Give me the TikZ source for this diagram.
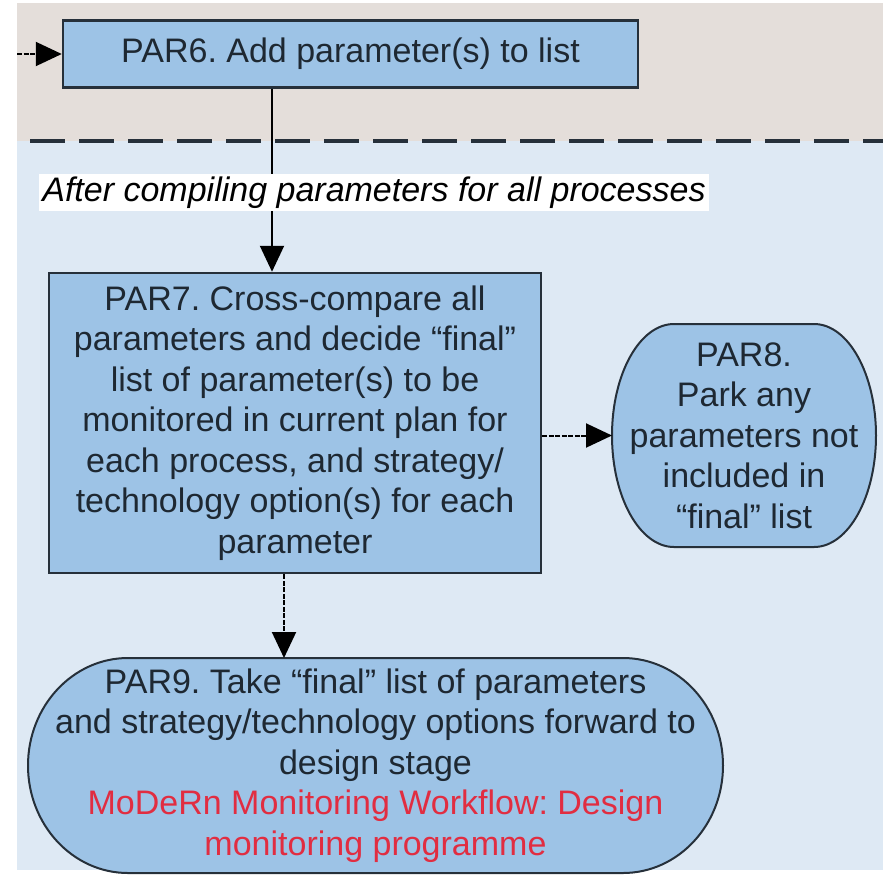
\documentclass[tikz,border=0pt]{standalone}
\usepackage{fontspec}
\setmainfont{Liberation Sans}
\frenchspacing
\usepackage{tikz}
\usetikzlibrary{positioning, arrows.meta, backgrounds}
\definecolor{boxblue}{RGB}{157,195,230}
\definecolor{edgedark}{RGB}{38,48,58}
\definecolor{txtdark}{RGB}{30,40,50}
\definecolor{upperbg}{RGB}{228,222,218}
\definecolor{lowerbg}{RGB}{222,233,244}
\definecolor{wfred}{RGB}{225,45,65}
\tikzset{
  parbox/.style={
    rectangle, draw=edgedark, line width=2.5pt, fill=boxblue,
    align=center, text=txtdark, inner sep=0pt,
    font=\fontsize{34}{40.5}\selectfont
  },
  parend/.style={parbox, draw=none, fill=none, outer sep=0pt},
  endline/.style={draw=edgedark, line width=2pt, line join=round, fill=boxblue},
  flow/.style={draw=black, line width=2pt, -{Triangle[length=26pt, width=24pt]}},
  dashflow/.style={flow, dash pattern=on 5pt off 1.5pt},
  note/.style={fill=white, text=black, inner xsep=3pt, inner ysep=3pt,
    font=\fontsize{34}{40.5}\selectfont\itshape},
}

\begin{document}
\begin{tikzpicture}[x=1pt, y=-1pt]
  \useasboundingbox (0,0) rectangle (883,876);

  \node[parbox, minimum width=575pt, minimum height=67pt] (PAR6) at (350.5,54)
    {PAR6. Add parameter(s) to list};
  \node[parbox, minimum width=492pt, minimum height=300pt] (PAR7) at (295,423)
    {PAR7. Cross-compare all\\ parameters and decide “final”\\ list of parameter(s) to be\\
     monitored in current plan for\\ each process, and strategy/\\
     technology option(s) for each\\ parameter};
  \node[parend, minimum width=264pt, minimum height=223pt] (PAR8) at (744,435.5)
    {PAR8.\\ Park any\\ parameters not\\ included in\\ “final” list};
  \node[parend, minimum width=695pt, minimum height=215pt] (PAR9) at (375.5,765.5)
    {PAR9. Take “final” list of parameters\\ and strategy/technology options forward to\\
     design stage\\ \textcolor{wfred}{MoDeRn Monitoring Workflow: Design}\\
     \textcolor{wfred}{monitoring programme}};

  \begin{scope}[on background layer]
    % the two bands and the border between them
    \fill[upperbg] (17,3) rectangle (883,141);
    \fill[lowerbg] (17,141) rectangle (883,870);
    \draw[edgedark, line width=4.5pt, dash pattern=on 35pt off 14pt] (30,141) -- (883,141);
    % terminal outlines
    \path[endline] ([xshift=62pt]PAR8.north west) -- ([xshift=-62pt]PAR8.north east)
      arc[start angle=90, end angle=-90, x radius=62pt, y radius=111.5pt]
      -- ([xshift=62pt]PAR8.south west)
      arc[start angle=270, end angle=90, x radius=62pt, y radius=111.5pt] -- cycle;
    \path[endline] ([xshift=100pt]PAR9.north west) -- ([xshift=-100pt]PAR9.north east)
      arc[start angle=90, end angle=-90, x radius=100pt, y radius=107.5pt]
      -- ([xshift=100pt]PAR9.south west)
      arc[start angle=270, end angle=90, x radius=100pt, y radius=107.5pt] -- cycle;
  \end{scope}

  \coordinate (entry) at (17,54);
  \coordinate (drop) at (272,0);
  \coordinate (feed) at (284,0);

  \draw[dashflow] (entry) -- (PAR6.west);
  \draw[flow] (PAR6.south -| drop) -- (PAR7.north -| drop);
  \node[note] (after) at (374,192.5) {After compiling parameters for all processes};
  \draw[dashflow] (PAR7.east |- PAR8.west) -- (PAR8.west);
  \draw[dashflow] (PAR7.south -| feed) -- (PAR9.north -| feed);
\end{tikzpicture}
\end{document}
